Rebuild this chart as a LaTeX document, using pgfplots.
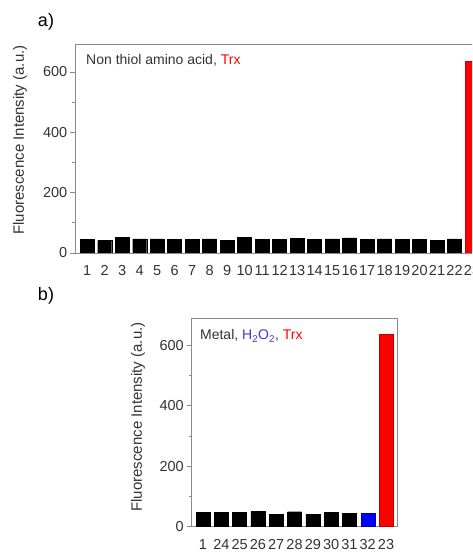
\documentclass[border=0pt]{standalone}
\usepackage{fontspec}
\setmainfont{Liberation Sans}
\usepackage{pgfplots}
\pgfplotsset{compat=1.18}
\definecolor{axgray}{HTML}{8A8A8A}
\definecolor{txtgray}{HTML}{333333}
\definecolor{trxred}{HTML}{FF0000}
\definecolor{hblue}{HTML}{3A3ACF}
\definecolor{barblue}{HTML}{0000FF}
\pgfplotsset{
  panel/.style={
    scale only axis, height=208.2pt,
    ymin=0, ymax=690,
    ytick={0,200,400,600}, minor ytick={100,300,500},
    axis line style={axgray, line width=0.8pt},
    ytick style={axgray, line width=0.8pt},
    xtick style={draw=none},
    tick align=outside, ytick pos=left, xtick pos=bottom,
    major tick length=5pt, minor tick length=3pt,
    ticklabel style={font=\fontsize{14.5}{15}\selectfont, text=txtgray},
    /pgf/number format/assume math mode=true,
    yticklabel style={inner sep=2.5pt},
    xticklabel style={yshift=-4pt},
    ylabel style={font=\fontsize{15}{16}\selectfont, text=txtgray, anchor=center},
  }
}
\begin{document}
\begin{tikzpicture}
\useasboundingbox (0,0) rectangle (472pt,553pt);
\clip (0,0) rectangle (472pt,553pt);
\node[font=\fontsize{18}{20}\selectfont, text=black] at (46pt,531pt) {a)};
\node[font=\fontsize{18}{20}\selectfont, text=black] at (46pt,257pt) {b)};
% Panel a
\begin{axis}[panel, at={(75pt,300pt)}, anchor=south west, width=409.27pt,
  xmin=0.3, xmax=23.7, xtick={1,...,23},
  ylabel={Fluorescence Intensity (a.u.)},
  ylabel style={at={(axis description cs:-0.1344,0.543)}}]
\addplot[ybar, bar width=14pt, bar shift=0pt, fill=black, draw=black] coordinates {
 (1,45)(2,41)(3,51)(4,47)(5,47)(6,45)(7,45)(8,47)(9,43)(10,52)(11,45)
 (12,45)(13,49)(14,45)(15,47)(16,50)(17,45)(18,47)(19,45)(20,45)(21,43)(22,47)};
\addplot[ybar, bar width=14pt, bar shift=0pt, fill=trxred, draw=red!75!black] coordinates {(23,636)};
\node[anchor=base west, inner sep=0pt, font=\fontsize{14}{15}\selectfont, text=txtgray]
  at (rel axis cs:0.0269,0.903) {Non thiol amino acid, \textcolor{trxred}{Trx}};
\end{axis}
% Panel b
\begin{axis}[panel, at={(191.5pt,26.5pt)}, anchor=south west, width=206.06pt,
  xmin=0.37, xmax=11.63, xtick={1,...,11},
  xticklabels={1,24,25,26,27,28,29,30,31,32,23},
  ylabel={Fluorescence Intensity (a.u.)},
  ylabel style={at={(axis description cs:-0.2596,0.526)}}]
\addplot[ybar, bar width=14pt, bar shift=0pt, fill=black, draw=black] coordinates {
 (1,46)(2,46)(3,47)(4,50)(5,41)(6,49)(7,41)(8,46)(9,44)};
\addplot[ybar, bar width=14pt, bar shift=0pt, fill=barblue, draw=blue!70!black] coordinates {(10,44)};
\addplot[ybar, bar width=14pt, bar shift=0pt, fill=trxred, draw=red!75!black] coordinates {(11,638)};
\node[anchor=base west, inner sep=0pt, font=\fontsize{14}{15}\selectfont, text=txtgray]
  at (rel axis cs:0.041,0.896) {Metal, \textcolor{hblue}{H\textsubscript{2}O\textsubscript{2},} \textcolor{trxred}{Trx}};
\end{axis}
\end{tikzpicture}
\end{document}
